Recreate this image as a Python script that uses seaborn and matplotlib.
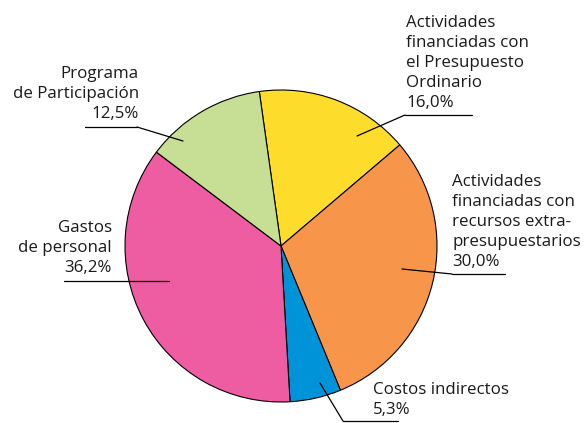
import matplotlib
matplotlib.use("Agg")
from matplotlib import pyplot as plt
import seaborn as sns

# data (clockwise from the top)
categories = ["Actividades\nfinanciadas con\nel Presupuesto\nOrdinario",
              "Actividades\nfinanciadas con\nrecursos extra-\npresupuestarios",
              "Costos indirectos",
              "Gastos\nde personal",
              "Programa\nde Participación"]
shares = [16.0, 30.0, 5.3, 36.2, 12.5]
colors = ["#FDDC2C", "#F7964A", "#0093D8", "#EE5CA1", "#C6DF95"]

sns.set_style("white")
plt.rcParams['font.family'] = ['Open Sans', 'DejaVu Sans']

H = 423
fig = plt.figure(figsize=(5.84, 4.23), dpi=100)
ax = fig.add_axes([0, 0, 1, 1])
ax.set_xlim(0, 584)
ax.set_ylim(0, H)
ax.set_aspect('equal')
ax.axis('off')

ax.pie(shares, colors=colors, startangle=98, counterclock=False,
       center=(281, H - 246), radius=156,
       wedgeprops=dict(edgecolor='black', linewidth=0.8))
ax.set_xlim(0, 584)
ax.set_ylim(0, H)

def pct(v):
    return f"{v:.1f}%".replace('.', ',')

# label layout: (text x, text bottom y, ha, underline x0, x1, underline y, pointer x, y)
layout = [
    (406, 111, 'left', 405, 472, 115, 357, 136),
    (452, 270, 'left', 452, 505, 274, 402, 269),
    (373, 418, 'left', 343, 398, 421, 320, 383),
    (112, 276, 'right', 64, 169, 281, 169, 281),
    (139, 122, 'right', 85, 137, 127, 183, 141),
]

for cat, v, (tx, ty, ha, x0, x1, uy, px, py) in zip(categories, shares, layout):
    ax.text(tx, H - ty, cat + "\n" + pct(v), ha=ha, va='bottom',
            fontsize=12.2, linespacing=1.33, color='#1a1a1a',
            multialignment=ha)
    ax.plot([x0, x1], [H - uy, H - uy], color='black', lw=0.9)
    start = x0 if ha == 'left' else x1
    ax.plot([start, px], [H - uy, H - py], color='black', lw=0.9)

fig.savefig("out.png", dpi=100)
